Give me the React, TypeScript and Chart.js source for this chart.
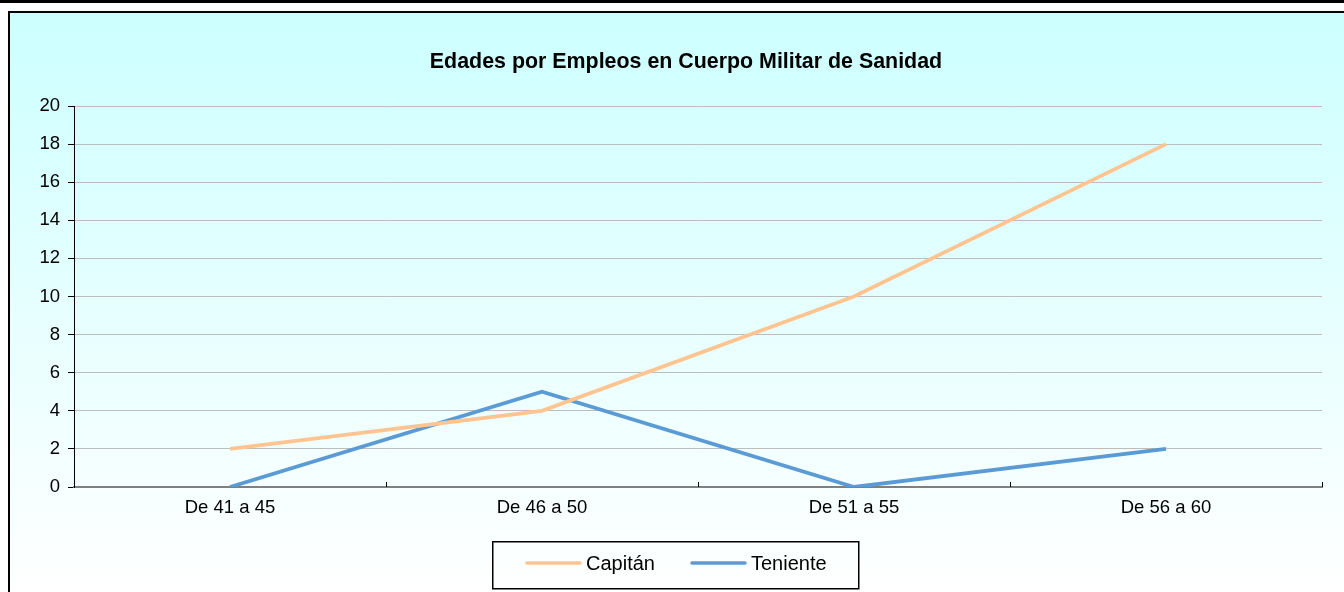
import React, { useEffect, useRef } from "react";
import { Chart, registerables } from "chart.js";

Chart.register(...registerables);

const TITLE = "Edades por Empleos en Cuerpo Militar de Sanidad";
const categories = ["De 41 a 45", "De 46 a 50", "De 51 a 55", "De 56 a 60"];
const capitanValues = [2, 4, 10, 18];
const tenienteValues = [0, 5, 0, 2];
const seriesNames = ["Capitán", "Teniente"];
const seriesColors = ["#FFC490", "#5B9BD5"];
const yMin = 0;
const yMax = 20;
const yStep = 2;

const FONT = '"Liberation Sans", Arial, sans-serif';

const framePlugin = {
  id: "frame",
  beforeDraw(chart: any) {
    const { ctx, width, height } = chart;
    ctx.save();
    ctx.fillStyle = "#ffffff";
    ctx.fillRect(0, 0, width, height);
    ctx.fillStyle = "#000000";
    ctx.fillRect(0, 0, width, 3);
    const g = ctx.createLinearGradient(0, 11, 0, height);
    g.addColorStop(0, "#CCFFFF");
    g.addColorStop(1, "#FFFFFF");
    ctx.fillStyle = g;
    ctx.fillRect(8, 11, width - 8, height - 11);
    ctx.fillStyle = "#000000";
    ctx.fillRect(8, 11, width - 8, 2);
    ctx.fillRect(8, 11, 2, height - 11);
    // title
    ctx.font = `bold 21.4px ${FONT}`;
    ctx.textAlign = "center";
    ctx.textBaseline = "middle";
    ctx.fillStyle = "#000000";
    ctx.fillText(TITLE, 686, 62);
    ctx.restore();
  },
  afterDraw(chart: any) {
    const { ctx } = chart;
    const x = chart.scales.x;
    const area = chart.chartArea;
    ctx.save();
    // category boundary tick marks on x axis (pointing up)
    ctx.strokeStyle = "#000000";
    ctx.lineWidth = 1;
    for (let i = 1; i <= categories.length; i++) {
      const px = Math.round(x.getPixelForValue(i - 0.5)) + 0.5;
      ctx.beginPath();
      ctx.moveTo(px, area.bottom - 5);
      ctx.lineTo(px, area.bottom);
      ctx.stroke();
    }
    // legend
    const bx = 492, by = 541, bw = 366, bh = 47;
    ctx.lineWidth = 1.5;
    ctx.strokeStyle = "#000000";
    ctx.strokeRect(bx + 0.75, by + 0.75, bw, bh);
    const ly = 563;
    const items = [
      { x0: 527, x1: 580, tx: 586 },
      { x0: 692, x1: 745, tx: 751 },
    ];
    ctx.font = `20px ${FONT}`;
    ctx.textAlign = "left";
    ctx.textBaseline = "middle";
    chart.data.datasets.forEach((ds: any, i: number) => {
      const it = items[i];
      ctx.strokeStyle = ds.borderColor;
      ctx.lineWidth = 3.5;
      ctx.lineCap = "round";
      ctx.beginPath();
      ctx.moveTo(it.x0, ly);
      ctx.lineTo(it.x1, ly);
      ctx.stroke();
      ctx.fillStyle = "#000000";
      ctx.fillText(ds.label, it.tx, ly + 1);
    });
    ctx.restore();
  },
};

export default function App() {
  const ref = useRef<HTMLCanvasElement | null>(null);
  useEffect(() => {
    if (!ref.current) return;
    const chart = new Chart(ref.current, {
      type: "line",
      data: {
        labels: categories,
        datasets: [
          {
            label: seriesNames[0],
            data: capitanValues,
            borderColor: seriesColors[0],
            backgroundColor: seriesColors[0],
            borderWidth: 3.8,
            pointRadius: 0,
            tension: 0,
          },
          {
            label: seriesNames[1],
            data: tenienteValues,
            borderColor: seriesColors[1],
            backgroundColor: seriesColors[1],
            borderWidth: 3.8,
            pointRadius: 0,
            tension: 0,
          },
        ],
      },
      options: {
        responsive: false,
        animation: false,
        devicePixelRatio: 1,
        layout: { padding: { top: 106, right: 22, left: 0, bottom: 0 } },
        plugins: {
          legend: { display: false },
          title: { display: false },
          tooltip: { enabled: false },
        },
        scales: {
          x: {
            offset: true,
            grid: { display: false, drawTicks: false },
            border: { display: true, color: "#808080", width: 2 },
            ticks: {
              color: "#000000",
              font: { family: FONT, size: 18.5 },
              padding: 10,
              maxRotation: 0,
            },
            afterFit(s: any) {
              s.height = 105;
            },
          },
          y: {
            min: yMin,
            max: yMax,
            ticks: {
              stepSize: yStep,
              color: "#000000",
              font: { family: FONT, size: 18.5 },
              padding: 8,
            },
            grid: {
              color: (c: any) => (c.tick && c.tick.value === 0 ? "rgba(0,0,0,0)" : "#BDBDBD"),
              tickColor: "#000000",
              tickLength: 6,
              drawTicks: true,
            },
            border: { display: true, color: "#000000", width: 1 },
            afterFit(s: any) {
              s.width = 74;
            },
          },
        },
      },
      plugins: [framePlugin],
    });
    return () => chart.destroy();
  }, []);
  return (
    <div style={{ position: "absolute", left: 0, top: 0, width: 1344, height: 592 }}>
      <canvas ref={ref} width={1344} height={592} style={{ display: "block" }} />
    </div>
  );
}
